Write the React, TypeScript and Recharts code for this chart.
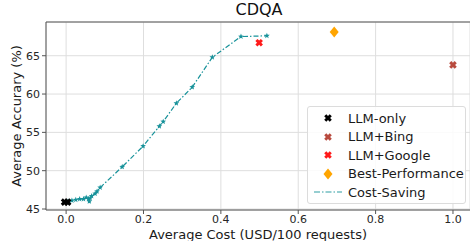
import React from 'react'
import {
  ScatterChart, Scatter, XAxis, YAxis, CartesianGrid, ReferenceLine, Label,
} from 'recharts'

const llmOnly = [
  { cost: -0.004, acc: 45.9 },
  { cost: 0.004, acc: 45.9 },
]
const llmBing = [{ cost: 1.0, acc: 63.8 }]
const llmGoogle = [{ cost: 0.499, acc: 66.7 }]
const bestPerf = [{ cost: 0.693, acc: 68.1 }]

const savingCost = [
  0.005, 0.015, 0.025, 0.035, 0.045, 0.052, 0.058, 0.06, 0.062, 0.066,
  0.075, 0.08, 0.088, 0.145, 0.199, 0.241, 0.251, 0.285, 0.326, 0.378, 0.452, 0.519,
]
const savingAcc = [
  46.0, 46.1, 46.2, 46.3, 46.3, 46.5, 46.3, 46.0, 46.4, 46.7,
  47.0, 47.3, 47.8, 50.5, 53.2, 55.8, 56.4, 58.8, 60.9, 64.8, 67.5, 67.6,
]
const costSaving = savingCost.map((c, i) => ({ cost: c, acc: savingAcc[i] }))

const xTicks = [0, 0.2, 0.4, 0.6, 0.8, 1.0]
const yTicks = [45, 50, 55, 60, 65]

const TEAL = '#17929a'
const FONT = '"DejaVu Sans", sans-serif'
const legendItems = [
  { name: 'LLM-only', color: '#000000', kind: 'x' },
  { name: 'LLM+Bing', color: '#b84a3e', kind: 'x' },
  { name: 'LLM+Google', color: '#ff1a1a', kind: 'x' },
  { name: 'Best-Performance', color: '#ffa500', kind: 'diamond' },
  { name: 'Cost-Saving', color: TEAL, kind: 'line' },
]

// filled "X" marker like matplotlib's 'X'
function xPath(cx: number, cy: number, r: number) {
  const t = r * 0.55
  return `M${cx - r},${cy - r + t} L${cx - r + t},${cy - r} L${cx},${cy - t} L${cx + r - t},${cy - r} L${cx + r},${cy - r + t} L${cx + t},${cy} L${cx + r},${cy + r - t} L${cx + r - t},${cy + r} L${cx},${cy + t} L${cx - r + t},${cy + r} L${cx - r},${cy + r - t} L${cx - t},${cy} Z`
}

const XMark = (color: string) => (p: any) => (
  <path d={xPath(p.cx, p.cy, 3.8)} fill={color} />
)

const Diamond = (p: any) => (
  <path d={`M${p.cx},${p.cy - 5.5} L${p.cx + 4.5},${p.cy} L${p.cx},${p.cy + 5.5} L${p.cx - 4.5},${p.cy} Z`} fill="#ffa500" />
)

const Star = (p: any) => {
  const pts: string[] = []
  for (let i = 0; i < 10; i++) {
    const r = i % 2 === 0 ? 3 : 1.3
    const a = -Math.PI / 2 + (i * Math.PI) / 5
    pts.push(`${p.cx + r * Math.cos(a)},${p.cy + r * Math.sin(a)}`)
  }
  return <polygon points={pts.join(' ')} fill={TEAL} />
}

function LegendBox() {
  return (
    <div style={{
      position: 'absolute', left: 307, top: 106, width: 159, height: 98,
      background: 'rgba(255,255,255,0.85)', border: '1px solid #dcdcdc', borderRadius: 3,
      fontFamily: FONT, fontSize: 13, color: '#1a1a1a', boxSizing: 'border-box',
    }}>
      {legendItems.map((it, i) => (
        <div key={it.name} style={{ position: 'absolute', left: 0, top: 2 + i * 18.6, height: 18, display: 'flex', alignItems: 'center' }}>
          <svg width={40} height={18}>
            {it.kind === 'x' && <path d={xPath(20, 9, 3.8)} fill={it.color} />}
            {it.kind === 'diamond' && <path d="M20,3.5 L24.5,9 L20,14.5 L15.5,9 Z" fill={it.color} />}
            {it.kind === 'line' && <line x1={6} x2={34} y1={9} y2={9} stroke={it.color} strokeOpacity={0.6} strokeWidth={1.5} strokeDasharray="6 2 1.5 2" />}
          </svg>
          <span style={{ whiteSpace: 'nowrap' }}>{it.name}</span>
        </div>
      ))}
    </div>
  )
}

export default function App() {
  const tick = { fill: '#262626', fontSize: 11, fontFamily: FONT }
  return (
    <div style={{ position: 'absolute', left: 0, top: 0, width: 470, height: 241, background: '#fff' }}>
      <div style={{ position: 'absolute', left: 0, width: 518, top: 0, textAlign: 'center', fontFamily: FONT, fontSize: 16, color: '#111' }}>
        CDQA
      </div>
      <ScatterChart width={470} height={241} margin={{ top: 22, right: 0, bottom: 0, left: 0 }}>
        <CartesianGrid stroke="#dedede" strokeWidth={1} />
        <XAxis type="number" dataKey="cost" domain={[-0.052, 1.044]} ticks={xTicks}
          allowDataOverflow height={31} tick={tick} tickSize={4} tickMargin={1}
          tickFormatter={(v: number) => v.toFixed(1)}
          axisLine={{ stroke: '#555' }} tickLine={{ stroke: '#555' }}>
          <Label value="Average Cost (USD/100 requests)" position="insideBottom" offset={2}
            style={{ fontSize: 13, fontFamily: FONT, fill: '#1a1a1a' }} />
        </XAxis>
        <YAxis type="number" dataKey="acc" domain={[44.87, 69.4]} ticks={yTicks}
          allowDataOverflow width={46} tick={tick} tickSize={4} tickMargin={2}
          axisLine={{ stroke: '#555' }} tickLine={{ stroke: '#555' }}>
          <Label content={() => (
            <text x={0} y={0} transform="translate(21,116) rotate(-90)" textAnchor="middle"
              style={{ fontSize: 13, fontFamily: FONT, fill: '#1a1a1a' }}>
              Average Accurary (%)
            </text>
          )} />
        </YAxis>
        <ReferenceLine y={69.4} stroke="#555" ifOverflow="visible" />
        <Scatter name="Cost-Saving" data={costSaving} isAnimationActive={false}
          line={{ stroke: TEAL, strokeWidth: 1.2, strokeDasharray: '5 2 1.5 2' }}
          lineJointType="linear" shape={Star} />
        <Scatter name="LLM-only" data={llmOnly} isAnimationActive={false} shape={XMark('#000000')} />
        <Scatter name="LLM+Bing" data={llmBing} isAnimationActive={false} shape={XMark('#b84a3e')} />
        <Scatter name="LLM+Google" data={llmGoogle} isAnimationActive={false} shape={XMark('#ff1a1a')} />
        <Scatter name="Best-Performance" data={bestPerf} isAnimationActive={false} shape={Diamond} />
      </ScatterChart>
      <LegendBox />
    </div>
  )
}
